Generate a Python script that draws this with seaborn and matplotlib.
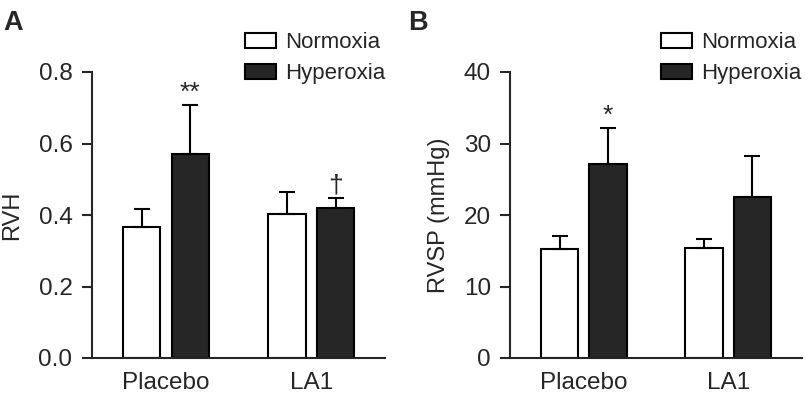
import pandas as pd
import matplotlib
matplotlib.use("Agg")
import matplotlib.pyplot as plt
import seaborn as sns

# Values
groups = ["Placebo", "LA1"]
conditions = ["Normoxia", "Hyperoxia"]

rvh_mean = {"Normoxia": [0.366, 0.404], "Hyperoxia": [0.571, 0.420]}
rvh_sem = {"Normoxia": [0.051, 0.059], "Hyperoxia": [0.138, 0.028]}
rvh_marks = {"Hyperoxia": ["**", "\u2020"]}

rvsp_mean = {"Normoxia": [15.3, 15.4], "Hyperoxia": [27.2, 22.5]}
rvsp_sem = {"Normoxia": [1.8, 1.3], "Hyperoxia": [5.0, 5.8]}
rvsp_marks = {"Hyperoxia": ["*", ""]}

sns.set_style("ticks")
plt.rcParams["font.family"] = ["Liberation Sans", "DejaVu Sans"]

palette = {"Normoxia": "white", "Hyperoxia": "#262626"}


def make_df(means, sems):
    rows = []
    for c in conditions:
        for g, m, s in zip(groups, means[c], sems[c]):
            rows.append({"group": g, "condition": c, "value": m, "sem": s})
    return pd.DataFrame(rows)


def draw_panel(ax, means, sems, marks, ylabel, ylim, yticks, fmt, label_x):
    df = make_df(means, sems)
    sns.barplot(data=df, x="group", y="value", hue="condition",
                order=groups, hue_order=conditions, palette=palette,
                edgecolor="black", linewidth=1.5, width=0.67, gap=0.23,
                errorbar=None, ax=ax)
    # one-sided error bars
    for bar_cont, c in zip(ax.containers, conditions):
        for i, patch in enumerate(bar_cont.patches):
            xc = patch.get_x() + patch.get_width() / 2
            m = means[c][i]
            s = sems[c][i]
            ax.errorbar(xc, m, yerr=[[0], [s]], color="black",
                        elinewidth=1.5, capsize=6, capthick=1.5, zorder=1)
            if c in marks and marks[c][i]:
                ax.annotate(marks[c][i], (xc, m + s), xytext=(0, 0),
                            textcoords="offset points", ha="center",
                            va="bottom", fontsize=19)
    ax.set_xlim(-0.51, 1.51)
    ax.set_ylim(*ylim)
    ax.set_yticks(yticks)
    ax.set_yticklabels([fmt.format(v) for v in yticks])
    ax.set_xlabel("")
    ax.set_ylabel(ylabel, fontsize=17)
    ax.yaxis.set_label_coords(label_x, 0.5)
    ax.tick_params(axis="y", direction="out", length=7, width=1.5,
                   labelsize=17.5, pad=7)
    ax.tick_params(axis="x", length=0, labelsize=17.5, pad=10)
    for side in ["top", "right"]:
        ax.spines[side].set_visible(False)
    for side in ["left", "bottom"]:
        ax.spines[side].set_linewidth(1.5)
    ax.get_legend().remove()


fig = plt.figure(figsize=(8.06, 4.0), dpi=100)
ax1 = fig.add_axes([0.114, 0.105, 0.364, 0.715])
ax2 = fig.add_axes([0.633, 0.105, 0.362, 0.715])

draw_panel(ax1, rvh_mean, rvh_sem, rvh_marks, "RVH", (0, 0.8),
           [0.0, 0.2, 0.4, 0.6, 0.8], "{:.1f}", -0.235)
draw_panel(ax2, rvsp_mean, rvsp_sem, rvsp_marks, "RVSP (mmHg)", (0, 40),
           [0, 10, 20, 30, 40], "{:.0f}", -0.206)

fig.text(3 / 806, 1 - 10 / 400, "A", fontsize=19.5, fontweight="bold",
         va="top", ha="left")
fig.text(408 / 806, 1 - 10 / 400, "B", fontsize=19.5, fontweight="bold",
         va="top", ha="left")

for x0 in [245 / 806, 661 / 806]:
    handles = [plt.Rectangle((0, 0), 1, 1, facecolor=palette[c],
                             edgecolor="black", linewidth=1.5)
               for c in conditions]
    fig.legend(handles, conditions, loc="upper left",
               bbox_to_anchor=(x0, 1 - 32 / 400), frameon=False,
               borderpad=0, borderaxespad=0, handlelength=1.4,
               handleheight=0.65, handletextpad=0.4, labelspacing=0.45,
               fontsize=16)

fig.savefig("out.png", dpi=100)
